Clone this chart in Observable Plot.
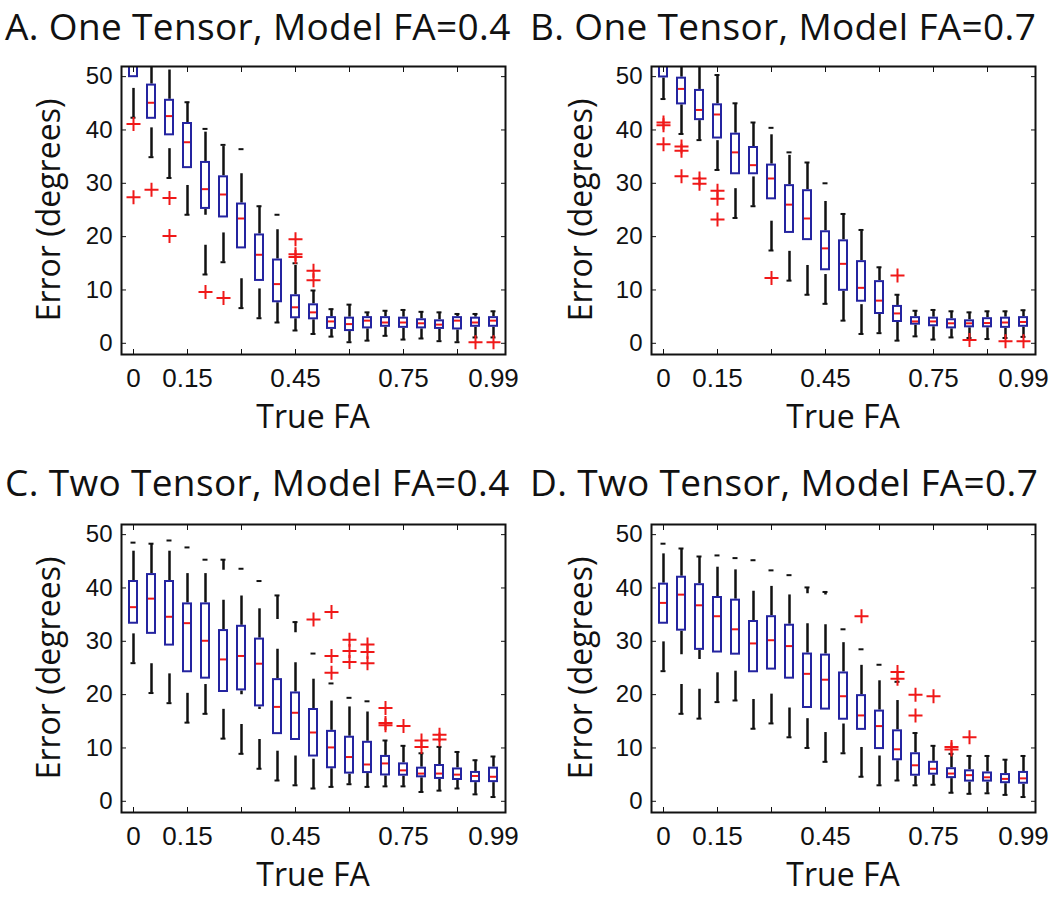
<!DOCTYPE html>
<html><head><meta charset="utf-8">
<script src="https://cdn.jsdelivr.net/npm/d3@7"></script>
<script src="https://cdn.jsdelivr.net/npm/@observablehq/plot@0.6"></script>
<style>
body{margin:0;background:#fff;width:1050px;height:907px;position:relative;overflow:hidden;font-family:"Open Sans",sans-serif;color:#111;}
.title{position:absolute;font-size:37px;line-height:normal;letter-spacing:0.35px;white-space:nowrap;}
.panel{position:absolute;}
.ylab{position:absolute;font-size:32px;line-height:32px;white-space:nowrap;transform:translate(-50%,-50%) rotate(-90deg);}
.xlab{position:absolute;font-size:32px;line-height:32px;white-space:nowrap;transform:translateX(-50%);}
</style></head><body>
<div class="panel" id="pA" style="left:0px;top:40px"></div>
<div class="panel" id="pB" style="left:525px;top:40px"></div>
<div class="panel" id="pC" style="left:0px;top:498px"></div>
<div class="panel" id="pD" style="left:525px;top:498px"></div>
<div class="title" style="left:5px;top:0px">A. One Tensor, Model FA=0.4</div>
<div class="title" style="left:530px;top:0px">B. One Tensor, Model FA=0.7</div>
<div class="title" style="left:5px;top:456px">C. Two Tensor, Model FA=0.4</div>
<div class="title" style="left:530px;top:456px">D. Two Tensor, Model FA=0.7</div>
<div class="ylab" style="left:48px;top:210px">Error (degrees)</div>
<div class="ylab" style="left:580px;top:210px">Error (degrees)</div>
<div class="ylab" style="left:48px;top:668px">Error (degrees)</div>
<div class="ylab" style="left:580px;top:668px">Error (degrees)</div>
<div class="xlab" style="left:313px;top:400px">True FA</div>
<div class="xlab" style="left:843px;top:400px">True FA</div>
<div class="xlab" style="left:313px;top:858px">True FA</div>
<div class="xlab" style="left:843px;top:858px">True FA</div>
<script>
// True FA categories (one box per category)
const faLabels = ["0","0.05","0.1","0.15","0.2","0.25","0.3","0.35","0.4","0.45","0.5","0.55","0.6","0.65","0.7","0.75","0.8","0.85","0.9","0.95","0.99"];
const xTickCats = ["0","0.15","0.3","0.45","0.6","0.75","0.9"];
const xLabelCats = ["0","0.15","0.45","0.75","0.99"];
const yTicks = [0,10,20,30,40,50];

// Panel A: One Tensor, Model FA=0.4
const aQ1  = [49.8,42.0,38.9,32.75,25.1,23.5,17.7,11.6,7.6,4.6,4.4,2.6,2.2,2.7,3.0,2.8,2.7,2.6,2.5,3.0,3.0];
const aMed = [53.5,45.1,42.6,37.7,28.9,27.9,23.4,16.6,11.1,6.75,5.8,4.1,3.6,4.25,3.9,3.9,3.75,3.5,4.25,3.9,4.25];
const aQ3  = [57,48.6,45.75,41.4,34.1,31.4,26.3,20.5,15.8,9.1,7.4,5.0,4.9,5.0,5.0,4.9,4.6,4.4,5.0,4.9,5.0];
const aLo  = [42.3,34.9,31.0,24.1,12.9,15.2,6.6,4.7,3.9,2.4,1.75,1.25,0.2,0.5,1.4,0.7,0.9,0.4,0.2,1.1,1.1];
const aHi  = [60,56,54,45.2,40.2,37.2,36.4,25.7,24.1,15.0,9.9,6.4,7.25,5.8,6.1,6.25,5.9,5.8,5.5,5.5,6.0];
const aOut = [[0,41.1],[0,27.4],[1,28.8],[2,27.25],[2,20.1],[4,9.6],[5,8.5],[9,19.5],[9,16.7],[9,16.2],[10,13.6],[10,11.8],[19,0.2],[20,0.2]];

// Panel B: One Tensor, Model FA=0.7
const bQ1  = [49.75,44.7,41.75,38.3,31.6,31.6,26.9,20.6,19.25,13.6,9.75,7.7,5.4,3.9,3.4,3.1,2.7,2.9,2.9,2.8,3.0];
const bMed = [53.5,47.7,43.75,42.9,35.8,33.4,30.9,26.0,23.4,17.8,14.9,10.4,8.0,5.6,4.1,4.1,3.75,3.75,3.8,3.9,4.0];
const bQ3  = [57,49.9,47.6,44.9,39.4,36.9,33.6,29.75,28.8,21.1,19.4,15.5,11.75,7.1,5.0,4.9,4.6,4.4,4.8,4.9,5.0];
const bLo  = [45.8,39.25,38.1,32.5,23.5,25.7,17.4,11.75,9.1,7.4,4.25,1.75,1.9,0.5,1.3,0.7,1.1,1.0,0.8,1.0,1.2];
const bHi  = [60,56,54,50.3,45.0,41.4,40.4,35.8,33.9,30.0,24.25,21.25,14.25,9.1,6.1,6.25,6.0,5.8,6.0,6.0,6.2];
const bOut = [[0,41.4],[0,40.9],[0,37.3],[1,36.9],[1,36.1],[1,31.3],[2,30.9],[2,29.9],[3,28.6],[3,27.1],[3,23.2],[6,12.25],[13,12.7],[17,0.6],[19,0.4],[20,0.4]];

// Panel C: Two Tensor, Model FA=0.4
const cQ1  = [33.2,31.3,29.1,24.1,22.9,20.4,20.7,17.7,12.5,11.4,8.3,6.1,5.1,5.2,4.75,4.7,4.4,4.1,3.9,3.5,3.5];
const cMed = [36.4,38.0,34.6,33.4,30.1,26.6,27.25,25.8,17.7,16.6,12.9,10.1,8.3,6.9,7.1,5.8,5.2,5.2,5.0,4.75,4.6];
const cQ3  = [41.4,42.7,41.4,37.2,37.2,32.2,33.0,30.6,23.0,20.5,17.4,13.3,12.2,11.25,8.6,7.2,6.4,6.9,6.25,5.6,6.4];
const cLo  = [25.9,20.3,18.4,14.75,16.4,11.75,8.9,6.1,3.9,3.0,2.4,2.7,3.2,2.7,2.8,2.8,1.75,2.0,2.4,1.3,0.8];
const cHi  = [48.5,48.3,48.9,47.6,45.3,45.3,43.6,41.3,38.6,33.6,27.7,22.1,19.4,18.75,11.4,10.4,9.0,10.2,9.25,7.7,8.4];
const cOut = [[10,34.1],[11,35.5],[11,27.25],[11,24.1],[12,30.3],[12,28.2],[12,26.1],[13,29.4],[13,28.0],[13,25.9],[14,17.5],[14,14.7],[14,14.25],[15,14.1],[16,11.4],[16,10.2],[17,12.5],[17,11.6]];

// Panel D: Two Tensor, Model FA=0.7
const dQ1  = [33.2,31.9,28.3,27.8,27.4,24.1,24.6,22.9,17.4,17.1,15.2,13.3,9.7,7.6,4.7,4.9,4.25,3.6,3.6,3.3,3.2];
const dMed = [37.2,38.75,36.75,34.7,32.25,29.6,30.2,29.1,23.9,22.8,19.7,16.1,14.1,9.75,6.75,6.1,5.2,4.9,4.5,4.2,4.3];
const dQ3  = [40.9,42.2,40.8,38.4,37.9,33.9,34.8,33.2,27.8,27.6,24.25,20.0,17.1,13.4,9.1,7.5,6.3,5.9,5.5,5.2,5.6];
const dLo  = [24.4,16.4,15.5,18.6,18.9,13.6,14.6,12.0,10.0,7.4,9.0,4.6,3.0,3.9,3.0,3.1,1.6,1.4,1.5,1.2,0.8];
const dHi  = [48.3,47.4,45.9,46.1,45.6,45.2,43.3,42.4,40.1,39.25,32.25,28.5,25.6,22.4,12.8,10.4,8.9,8.5,8.5,7.8,8.5];
const dOut = [[11,34.7],[13,24.25],[13,23.0],[14,20.0],[14,16.1],[15,19.7],[16,10.2],[16,9.7],[17,12.0]];

const BLUE = "#2424a0", RED = "#f01818", BLACK = "#111";
const plus = {draw(ctx, size) { const r = Math.sqrt(size / Math.PI); ctx.moveTo(-r, 0); ctx.lineTo(r, 0); ctx.moveTo(0, -r); ctx.lineTo(0, r); }};

function panel(q1, med, q3, lo, hi, outliers, left) {
  const rows = faLabels.map((fa, i) => ({fa, q1: q1[i], med: med[i], q3: q3[i], lo: lo[i], hi: hi[i]}));
  const outs = outliers.map(([i, v]) => ({fa: faLabels[i], v}));
  return Plot.plot({
    width: 525, height: 404,
    marginTop: 26, marginBottom: 90,
    marginLeft: left ? 121 : 126, marginRight: left ? 20 : 15,
    style: {background: "transparent", fontFamily: "'Liberation Sans', Arial, sans-serif", color: "#111", overflow: "visible"},
    x: {type: "band", domain: faLabels, paddingInner: 0.45, paddingOuter: 0.225, axis: null},
    y: {domain: [-2.1, 51.9], axis: null},
    marks: [
      Plot.ruleX(rows, {x: "fa", y1: "q3", y2: "hi", stroke: BLACK, strokeWidth: 2.5, strokeDasharray: "29.3,29.9", clip: true}),
      Plot.ruleX(rows, {x: "fa", y1: "lo", y2: "q1", stroke: BLACK, strokeWidth: 2.5, strokeDasharray: "29.3,29.9", clip: true}),
      Plot.tickY(rows, {x: "fa", y: "hi", stroke: BLACK, strokeWidth: 2, inset: 2.5, clip: true}),
      Plot.tickY(rows, {x: "fa", y: "lo", stroke: BLACK, strokeWidth: 2, inset: 2.5, clip: true}),
      Plot.barY(rows, {x: "fa", y1: "q1", y2: "q3", fill: "white", stroke: BLUE, strokeWidth: 2, inset: 1, clip: true}),
      Plot.tickY(rows, {x: "fa", y: "med", stroke: RED, strokeWidth: 2, inset: 2, clip: true}),
      Plot.dot(outs, {x: "fa", y: "v", symbol: plus, r: 7, stroke: RED, strokeWidth: 2, fill: "none", clip: true}),
      Plot.frame({stroke: "#111", strokeWidth: 2}),
      Plot.axisY({ticks: yTicks, tickSize: -5, tickPadding: 14, fontSize: 24, label: null}),
      Plot.axisY({anchor: "right", ticks: yTicks, tickSize: -5, fill: "none", label: null}),
      Plot.axisX({ticks: xTickCats, tickSize: -5, fill: "none", label: null}),
      Plot.axisX({anchor: "top", ticks: xTickCats, tickSize: -5, fill: "none", label: null}),
      Plot.axisX({ticks: xLabelCats, tickSize: 0, tickPadding: 14, fontSize: 26, label: null})
    ]
  });
}

document.getElementById("pA").append(panel(aQ1, aMed, aQ3, aLo, aHi, aOut, true));
document.getElementById("pB").append(panel(bQ1, bMed, bQ3, bLo, bHi, bOut, false));
document.getElementById("pC").append(panel(cQ1, cMed, cQ3, cLo, cHi, cOut, true));
document.getElementById("pD").append(panel(dQ1, dMed, dQ3, dLo, dHi, dOut, false));
</script>
</body></html>
